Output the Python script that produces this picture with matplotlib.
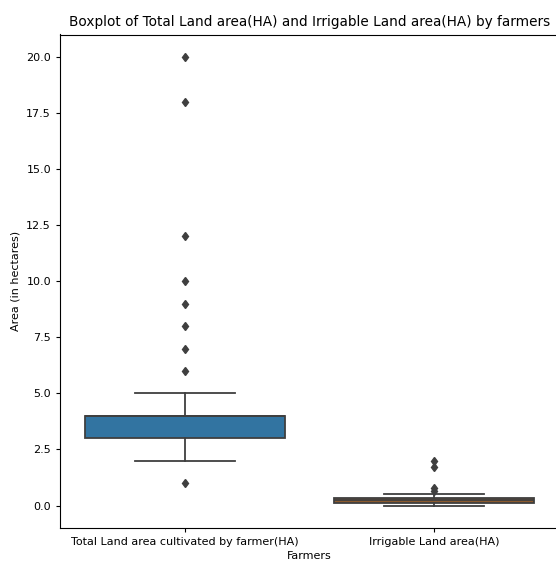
import matplotlib
matplotlib.use("Agg")
import matplotlib.pyplot as plt

categories = ["Total Land area cultivated by farmer(HA)", "Irrigable Land area(HA)"]
q1 = [3.0, 0.1]
med = [4.0, 0.25]
q3 = [4.0, 0.35]
whislo = [2.0, 0.0]
whishi = [5.0, 0.5]
fliers = [[1, 6, 7, 8, 9, 10, 12, 18, 20], [0.65, 0.8, 1.7, 2.0]]
colors = ["#3274a1", "#8b5a2e"]

fig = plt.figure(figsize=(5.56, 5.61), dpi=100)
ax = fig.add_axes([60/556, 1-528/561, 499/556, (528-34.5)/561])

stats = []
for i, c in enumerate(categories):
    stats.append(dict(label=c, q1=q1[i], med=med[i], q3=q3[i],
                      whislo=whislo[i], whishi=whishi[i], fliers=fliers[i]))

line_c = "#3f3f3f"
bp = ax.bxp(stats, positions=range(len(categories)), widths=0.8, patch_artist=True,
            boxprops=dict(edgecolor=line_c, linewidth=1.3),
            whiskerprops=dict(color=line_c, linewidth=1.3),
            capprops=dict(color=line_c, linewidth=1.3),
            medianprops=dict(color=line_c, linewidth=1.3),
            flierprops=dict(marker="d", markerfacecolor=line_c, markeredgecolor=line_c,
                            markersize=4.5, linestyle="none"))
for patch, col in zip(bp["boxes"], colors):
    patch.set_facecolor(col)

ax.set_xlim(-0.5, 1.5)
ax.set_ylim(-1.0, 21.0)
ax.set_yticks([0, 2.5, 5, 7.5, 10, 12.5, 15, 17.5, 20])
ax.set_yticklabels(["0.0", "2.5", "5.0", "7.5", "10.0", "12.5", "15.0", "17.5", "20.0"])
ax.tick_params(labelsize=8, length=3, width=0.8)
for s in ax.spines.values():
    s.set_linewidth(0.8)
ax.set_xlabel("Farmers", fontsize=8, labelpad=3)
ax.set_ylabel("Area (in hectares)", fontsize=8)
ax.set_title("Boxplot of Total Land area(HA) and Irrigable Land area(HA) by farmers", fontsize=9.8)

fig.savefig("out.png", dpi=100)
